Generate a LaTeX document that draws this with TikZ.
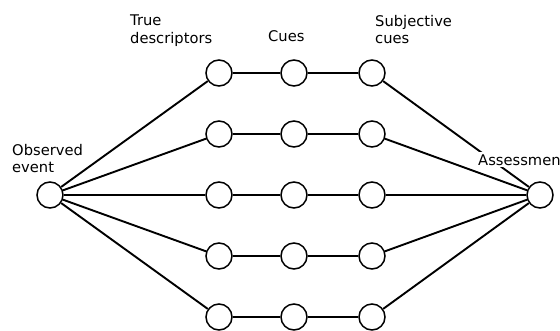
\documentclass[tikz,border=0pt]{standalone}
\usepackage{fontspec}
\setmainfont{DejaVu Sans}
\begin{document}
\begin{tikzpicture}[x=1pt,y=-1pt,
  dot/.style={circle,draw,line width=1.5pt,minimum size=26pt,inner sep=0pt},
  link/.style={line width=1.9pt},
  lbl/.style={font=\fontsize{14.7}{17.5}\selectfont,inner sep=0pt,align=left,anchor=north west}]
\useasboundingbox (0,0) rectangle (560,330);
\fill[white] (0,0) rectangle (560,330);
\foreach \i/\y in {1/73,2/134,3/195,4/256,5/317} {
  \node[dot] (t\i) at (219,\y) {};
  \node[dot] (c\i) at (294,\y) {};
  \node[dot] (s\i) at (372,\y) {};
}
\node[dot] (obs) at (50,195) {};
\node[dot] (ass) at (540,195) {};
\foreach \i in {1,...,5} {
  \draw[link] (obs) -- (t\i);
  \draw[link] (t\i) -- (c\i);
  \draw[link] (c\i) -- (s\i);
  \draw[link] (s\i) -- (ass);
}
\node[lbl] (ldesc) at (130,15) {True\\descriptors};
\node[lbl] (lcues) at (268,30) {Cues};
\node[lbl] (lsubj) at (375,15) {Subjective\\cues};
\node[lbl] (lobs) at (12,144) {Observed\\event};
\node[font=\fontsize{14.7}{17.5}\selectfont,fill=white,inner sep=2pt,anchor=base west] (lass) at (476,165) {Assessment};
\end{tikzpicture}
\end{document}
